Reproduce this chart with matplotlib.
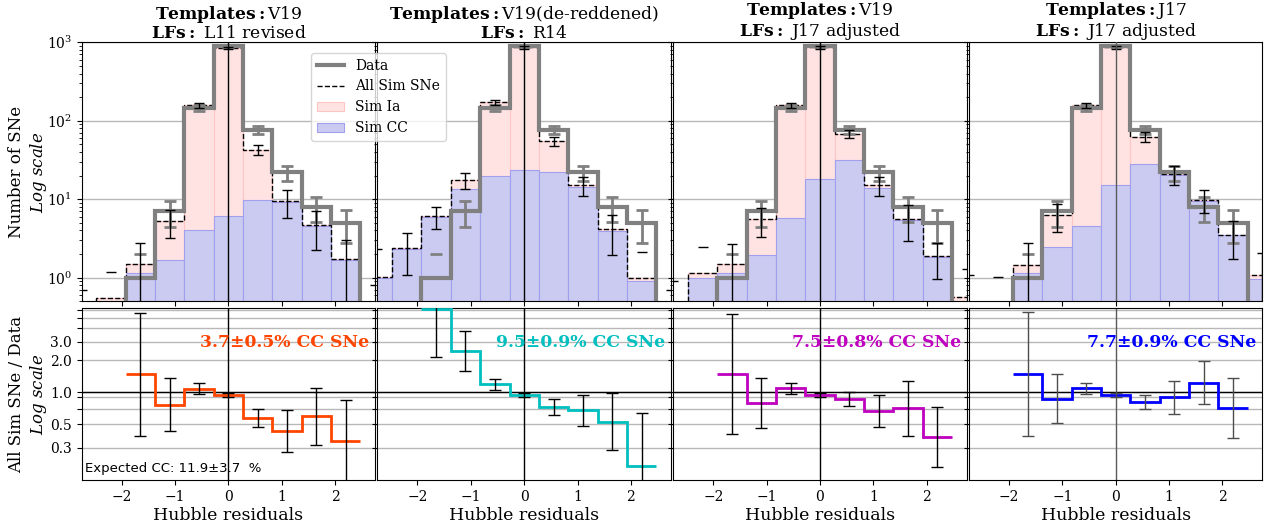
import numpy as np
import matplotlib
matplotlib.use("Agg")
import matplotlib.pyplot as plt
from matplotlib.ticker import NullLocator

plt.rcParams["font.family"] = "serif"
plt.rcParams["font.serif"] = ["DejaVu Serif"]
plt.rcParams["mathtext.fontset"] = "dejavuserif"

# --------------------------
# data
# --------------------------
bin_edges = np.linspace(-3.025, 3.025, 12)   # 11 bins of 0.55 in Hubble residual
bin_centers = 0.5 * (bin_edges[1:] + bin_edges[:-1])

templates = ["V19", "V19(de-reddened)", "V19", "J17"]
lfs = ["L11 revised", "R14", "J17 adjusted", "J17 adjusted"]
cc_labels = ["3.7±0.5% CC SNe", "9.5±0.9% CC SNe", "7.5±0.8% CC SNe", "7.7±0.9% CC SNe"]
expected_cc = "Expected CC: 11.9±3.7  %"

# observed data (same in every panel)
data_counts = [0, 0, 1, 7, 146, 900, 76, 22, 8, 5, 0]
data_err = [0, 0, 1.0, 2.6, 12, 30, 8.7, 4.7, 2.8, 2.2, 0]

# all simulated SNe / simulated CC / uncertainty per panel
sim_total_1 = [0.25, 0.55, 1.48, 5.3, 157, 841, 43, 9.4, 4.66, 1.73, 0.3]
sim_cc_1 = [0, 0, 1.15, 1.70, 4.1, 6.06, 9.9, 9.25, 4.56, 1.70, 0]
sim_err_1 = [0.44, 0.63, 1.29, 2.1, 13, 29, 6, 3.7, 2.4, 1.33, 0.5]

sim_total_2 = [1.02, 2.39, 6.1, 17.5, 172, 860, 55, 15.2, 4.14, 1.0, 0]
sim_cc_2 = [1.0, 2.35, 6.0, 13.7, 19.9, 23.5, 22, 14.5, 3.98, 0.92, 0]
sim_err_2 = [1.3, 1.3, 1.9, 4.0, 13, 29, 7, 4.2, 2.2, 1.1, 0.7]

sim_total_3 = [0.3, 1.16, 1.48, 5.55, 157, 860, 68, 15.0, 5.66, 1.87, 0.565]
sim_cc_3 = [0, 0.99, 1.15, 1.93, 5.8, 18.0, 32, 14.1, 5.4, 1.83, 0]
sim_err_3 = [0.6, 1.3, 1.24, 2.25, 13, 29, 7.5, 4.0, 2.7, 0.9, 0.74]

sim_total_4 = [0.3, 0.3, 1.47, 6.25, 157, 860, 62.7, 20.9, 9.9, 3.54, 1.07]
sim_cc_4 = [0, 0, 1.16, 2.46, 4.52, 15.1, 28.5, 20.2, 9.4, 3.47, 0.95]
sim_err_4 = [0.77, 0.72, 1.33, 2.4, 13, 29, 9, 5.5, 3.3, 1.8, 1.0]

# ratio All Sim / Data for the central 8 bins, with lower/upper error limits
ratio_1 = [1.49, 0.76, 1.08, 0.94, 0.573, 0.43, 0.60, 0.346]
ratio_lo_1 = [0.39, 0.43, 0.96, 0.90, 0.475, 0.275, 0.32, 0.05]
ratio_hi_1 = [5.6, 1.35, 1.22, 0.99, 0.69, 0.68, 1.1, 0.846]

ratio_2 = [6.1, 2.46, 1.20, 0.95, 0.73, 0.68, 0.526, 0.203]
ratio_lo_2 = [2.16, 1.59, 1.05, 0.91, 0.61, 0.486, 0.285, 0.05]
ratio_hi_2 = [20, 3.8, 1.33, 0.98, 0.86, 0.95, 0.98, 0.64]

ratio_3 = [1.49, 0.79, 1.09, 0.94, 0.865, 0.67, 0.707, 0.38]
ratio_lo_3 = [0.405, 0.46, 0.97, 0.90, 0.74, 0.47, 0.39, 0.197]
ratio_hi_3 = [5.42, 1.37, 1.23, 0.99, 1.01, 0.95, 1.28, 0.73]

ratio_4 = [1.49, 0.87, 1.09, 0.94, 0.816, 0.90, 1.23, 0.717]
ratio_lo_4 = [0.39, 0.52, 0.96, 0.90, 0.70, 0.63, 0.77, 0.37]
ratio_hi_4 = [5.66, 1.49, 1.22, 0.99, 0.95, 1.29, 1.96, 1.37]

ratio_yticks = [0.3, 0.5, 0.7, 0.9, 1.0, 2.0, 3.0, 4.0, 5.0, 6.0]
ratio_yticklabels = ["0.3", "0.5", "", "", "1.0", "2.0", "3.0", "", "", ""]

sim_totals = [sim_total_1, sim_total_2, sim_total_3, sim_total_4]
sim_ccs = [sim_cc_1, sim_cc_2, sim_cc_3, sim_cc_4]
sim_errs = [sim_err_1, sim_err_2, sim_err_3, sim_err_4]
ratios = [ratio_1, ratio_2, ratio_3, ratio_4]
ratio_los = [ratio_lo_1, ratio_lo_2, ratio_lo_3, ratio_lo_4]
ratio_his = [ratio_hi_1, ratio_hi_2, ratio_hi_3, ratio_hi_4]

ratio_colors = ["orangered", "c", "m", "b"]
zero_colors = ["k", "k", "k", "0.35"]
ratio_err_colors = ["k", "k", "k", "0.3"]


def lower_err(vals, errs):
    # like a masked log axis: lower whisker vanishes if it would go <= 0
    vals = np.asarray(vals, float)
    errs = np.asarray(errs, float)
    return np.where(vals - errs > 0, errs, np.nan)


fig = plt.figure(figsize=(12.76, 5.29), dpi=100)
gs = fig.add_gridspec(2, 4, left=0.064, right=0.9894, top=0.920, bottom=0.0926,
                      wspace=0.0078, hspace=0.031, height_ratios=[259, 172])

legend_handles = None
top_axes = []
bot_axes = []
for i in range(4):
    ax = fig.add_subplot(gs[0, i])
    axr = fig.add_subplot(gs[1, i])
    top_axes.append(ax)
    bot_axes.append(axr)

    total = np.asarray(sim_totals[i], float)
    cc = np.asarray(sim_ccs[i], float)
    err = np.asarray(sim_errs[i], float)

    # --- histogram panel ---
    ax.set_yscale("log")
    b_ia = ax.bar(bin_centers, total, width=0.55, color="#ffe3e3", edgecolor="#ffc4c4",
                  linewidth=0.8, label="Sim Ia")
    b_cc = ax.bar(bin_centers, cc, width=0.55, color="#cbcbf2", edgecolor="#a0a0ee",
                  linewidth=0.8, label="Sim CC")
    s_all = ax.stairs(total, bin_edges, color="k", linestyle="--", linewidth=1,
                      label="All Sim SNe", zorder=3)
    s_dat = ax.stairs(data_counts, bin_edges, color="gray", linewidth=3,
                      label="Data", zorder=4)
    ax.errorbar(bin_centers, data_counts,
                yerr=[lower_err(data_counts, data_err), data_err],
                fmt="none", ecolor="gray", elinewidth=2, capsize=4.5, capthick=2, zorder=5)
    ax.errorbar(bin_centers, total, yerr=[lower_err(total, err), err],
                fmt="none", ecolor="k", elinewidth=1, capsize=3.5, capthick=1, zorder=6)
    ax.axvline(0, color=zero_colors[i], linewidth=1, zorder=7)
    ax.set_xlim(-2.75, 2.75)
    ax.set_ylim(0.5, 1000)
    ax.set_xticks([-2, -1, 0, 1, 2])
    ax.tick_params(labelbottom=False, labelsize=10)
    ax.grid(True, axis="y", which="major", color="#b8b8b8", linewidth=1)
    ax.set_axisbelow(True)
    ax.set_title(r"$\bf{Templates:}$" + templates[i] + "\n" + r"$\bf{LFs:}$ " + lfs[i],
                 fontsize=12.3, pad=3, linespacing=1.0)
    if i == 0:
        legend_handles = [s_dat, s_all, b_ia, b_cc]
        ax.set_ylabel("Number of SNe\n" + r"$Log\ scale$", fontsize=12, labelpad=-2)
    else:
        ax.tick_params(which="both", labelleft=False)

    # --- ratio panel ---
    r = np.asarray(ratios[i], float)
    lo = np.asarray(ratio_los[i], float)
    hi = np.asarray(ratio_his[i], float)
    axr.set_yscale("log")
    axr.stairs(r, bin_edges[2:11], baseline=None, color=ratio_colors[i], linewidth=2,
               zorder=3)
    axr.errorbar(bin_centers[2:10], r, yerr=[r - lo, hi - r], fmt="none",
                 ecolor=ratio_err_colors[i], elinewidth=1, capsize=4, capthick=1, zorder=4)
    axr.axhline(1.0, color="k", linewidth=1, zorder=2)
    axr.axvline(0, color=zero_colors[i], linewidth=1, zorder=2)
    axr.set_xlim(-2.75, 2.75)
    axr.set_ylim(0.15, 6.2)
    axr.set_yticks(ratio_yticks)
    axr.set_yticklabels(ratio_yticklabels)
    axr.yaxis.set_minor_locator(NullLocator())
    axr.set_xticks([-2, -1, 0, 1, 2])
    axr.tick_params(labelsize=10)
    axr.grid(True, axis="y", color="#b8b8b8", linewidth=1)
    axr.set_axisbelow(True)
    axr.set_xlabel("Hubble residuals", fontsize=12.5, labelpad=2)
    axr.text(0.98, 0.80, cc_labels[i], transform=axr.transAxes, ha="right", va="center",
             color=ratio_colors[i], fontsize=12.4, fontweight="bold", zorder=5)
    if i == 0:
        axr.set_ylabel("All Sim SNe / Data\n" + r"$Log\ scale$", fontsize=12, labelpad=-2)
        axr.text(0.01, 0.03, expected_cc, transform=axr.transAxes, ha="left", va="bottom",
                 family="DejaVu Sans", fontsize=9.5)
    else:
        axr.tick_params(labelleft=False)

fig.align_ylabels([top_axes[0], bot_axes[0]])

fig.legend(legend_handles, ["Data", "All Sim SNe", "Sim Ia", "Sim CC"],
           loc="upper left", bbox_to_anchor=(304 / 1276, 1 - 46 / 529), fontsize=10)

fig.savefig("out.png", dpi=100)
